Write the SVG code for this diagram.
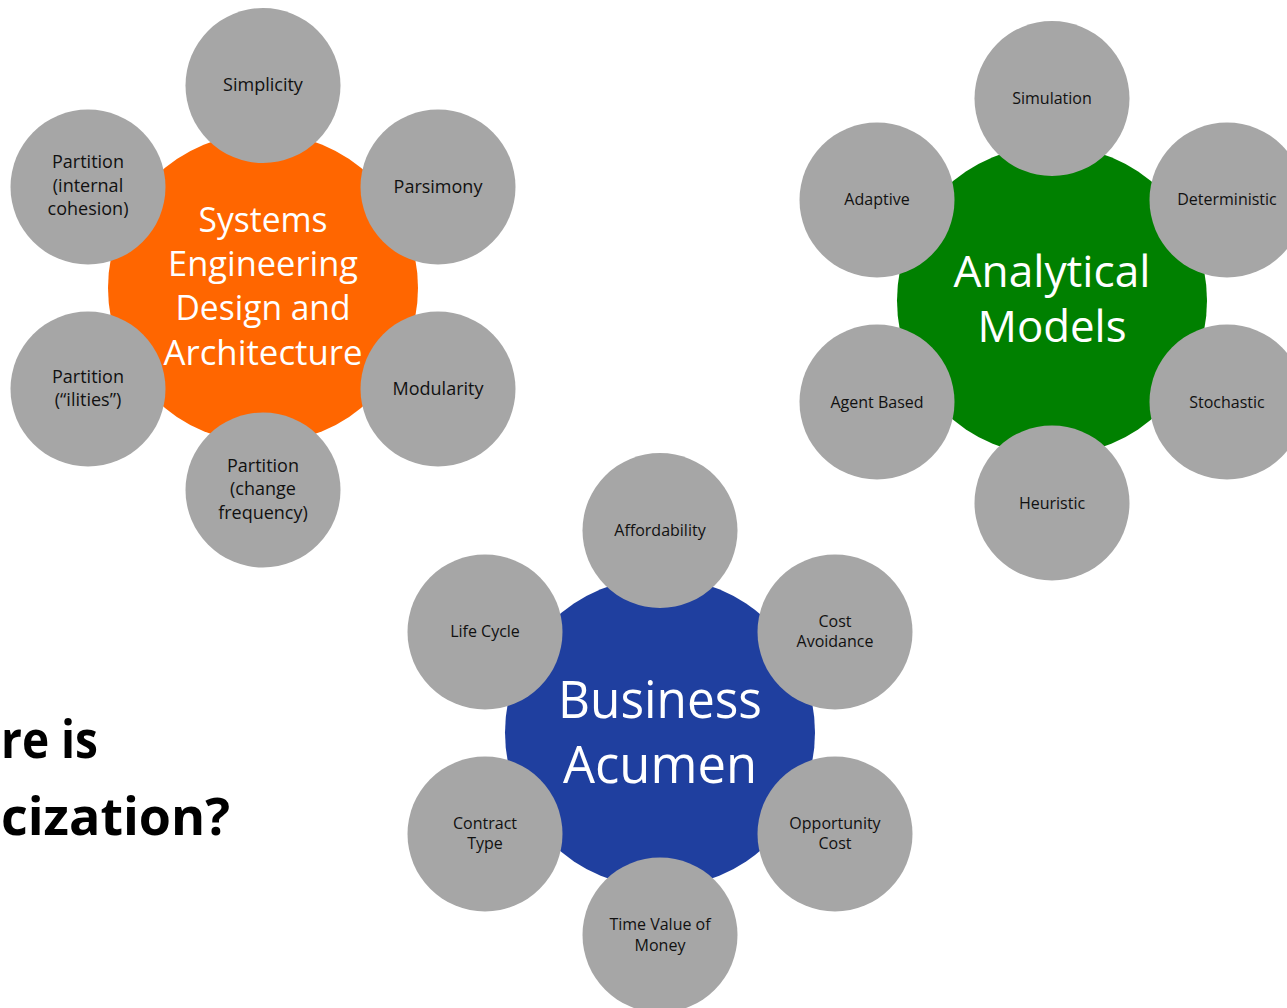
<svg xmlns="http://www.w3.org/2000/svg" width="1287" height="1008" viewBox="0 0 1287 1008">
<style>
.sat{fill:#A6A6A6}
.st{font-family:"Open Sans","Noto Sans","Liberation Sans",sans-serif;fill:#111111;text-anchor:middle}
.s18{font-size:18px}
.s16{font-size:16px}
.hub{font-family:"Open Sans","Noto Sans","Liberation Sans",sans-serif;fill:#ffffff;text-anchor:middle}
.q{font-family:"Open Sans","Noto Sans","Liberation Sans",sans-serif;font-weight:bold;font-size:52px;fill:#000}
</style>
<rect width="1287" height="1008" fill="#ffffff"/>
<g id="connectors"/>
<g id="question">
<text class="q" x="1" y="758" textLength="97" lengthAdjust="spacingAndGlyphs">re is</text>
<text class="q" x="1" y="835" textLength="229" lengthAdjust="spacingAndGlyphs">cization?</text>
</g>

<!-- Cluster 1 -->
<g id="systems-engineering">
<circle cx="263" cy="288" r="155" fill="#FF6600"/>
<text class="hub" font-size="34" x="263" y="232" textLength="129" lengthAdjust="spacingAndGlyphs">Systems</text>
<text class="hub" font-size="34" x="263" y="276" textLength="190" lengthAdjust="spacingAndGlyphs">Engineering</text>
<text class="hub" font-size="34" x="263" y="320" textLength="175" lengthAdjust="spacingAndGlyphs">Design and</text>
<text class="hub" font-size="34" x="263" y="365" textLength="199" lengthAdjust="spacingAndGlyphs">Architecture</text>
</g>
<g id="simplicity"><circle class="sat" cx="263" cy="85.5" r="77.5"/><text class="st s18" x="263" y="91">Simplicity</text></g>
<g id="parsimony"><circle class="sat" cx="438" cy="187" r="77.5"/><text class="st s18" x="438" y="193">Parsimony</text></g>
<g id="modularity"><circle class="sat" cx="438" cy="389" r="77.5"/><text class="st s18" x="438" y="395">Modularity</text></g>
<g id="partition-change"><circle class="sat" cx="263" cy="490" r="77.5"/>
<text class="st s18" x="263" y="472">Partition</text><text class="st s18" x="263" y="495">(change</text><text class="st s18" x="263" y="519">frequency)</text></g>
<g id="partition-ilities"><circle class="sat" cx="88" cy="389" r="77.5"/>
<text class="st s18" x="88" y="383">Partition</text><text class="st s18" x="88" y="406">(“ilities”)</text></g>
<g id="partition-internal"><circle class="sat" cx="88" cy="187" r="77.5"/>
<text class="st s18" x="88" y="168">Partition</text><text class="st s18" x="88" y="192">(internal</text><text class="st s18" x="88" y="215">cohesion)</text></g>

<!-- Cluster 2 -->
<g id="analytical-models">
<circle cx="1052" cy="300.5" r="155" fill="#008000"/>
<text class="hub" font-size="43" x="1052" y="287" textLength="197" lengthAdjust="spacingAndGlyphs">Analytical</text>
<text class="hub" font-size="43" x="1052" y="342" textLength="149" lengthAdjust="spacingAndGlyphs">Models</text>
</g>
<g id="simulation"><circle class="sat" cx="1052" cy="98.5" r="77.5"/><text class="st s16" x="1052" y="104">Simulation</text></g>
<g id="deterministic"><circle class="sat" cx="1227" cy="200" r="77.5"/><text class="st s16" x="1227" y="205">Deterministic</text></g>
<g id="stochastic"><circle class="sat" cx="1227" cy="402" r="77.5"/><text class="st s16" x="1227" y="407.5">Stochastic</text></g>
<g id="heuristic"><circle class="sat" cx="1052" cy="503" r="77.5"/><text class="st s16" x="1052" y="508.5">Heuristic</text></g>
<g id="agent-based"><circle class="sat" cx="877" cy="402" r="77.5"/><text class="st s16" x="877" y="407.5">Agent Based</text></g>
<g id="adaptive"><circle class="sat" cx="877" cy="200" r="77.5"/><text class="st s16" x="877" y="205">Adaptive</text></g>

<!-- Cluster 3 -->
<g id="business-acumen">
<circle cx="660" cy="732.5" r="155" fill="#1F3F9F"/>
<text class="hub" font-size="51" x="660" y="718" textLength="204" lengthAdjust="spacingAndGlyphs">Business</text>
<text class="hub" font-size="51" x="660" y="783" textLength="194" lengthAdjust="spacingAndGlyphs">Acumen</text>
</g>
<g id="affordability"><circle class="sat" cx="660" cy="530.5" r="77.5"/><text class="st s16" x="660" y="535.5">Affordability</text></g>
<g id="cost-avoidance"><circle class="sat" cx="835" cy="632" r="77.5"/>
<text class="st s16" x="835" y="626.5">Cost</text><text class="st s16" x="835" y="646.5">Avoidance</text></g>
<g id="opportunity-cost"><circle class="sat" cx="835" cy="834" r="77.5"/>
<text class="st s16" x="835" y="828.5">Opportunity</text><text class="st s16" x="835" y="848.5">Cost</text></g>
<g id="time-value"><circle class="sat" cx="660" cy="935" r="77.5"/>
<text class="st s16" x="660" y="929.5">Time Value of</text><text class="st s16" x="660" y="950.5">Money</text></g>
<g id="contract-type"><circle class="sat" cx="485" cy="834" r="77.5"/>
<text class="st s16" x="485" y="828.5">Contract</text><text class="st s16" x="485" y="848.5">Type</text></g>
<g id="life-cycle"><circle class="sat" cx="485" cy="632" r="77.5"/><text class="st s16" x="485" y="637">Life Cycle</text></g>
</svg>
